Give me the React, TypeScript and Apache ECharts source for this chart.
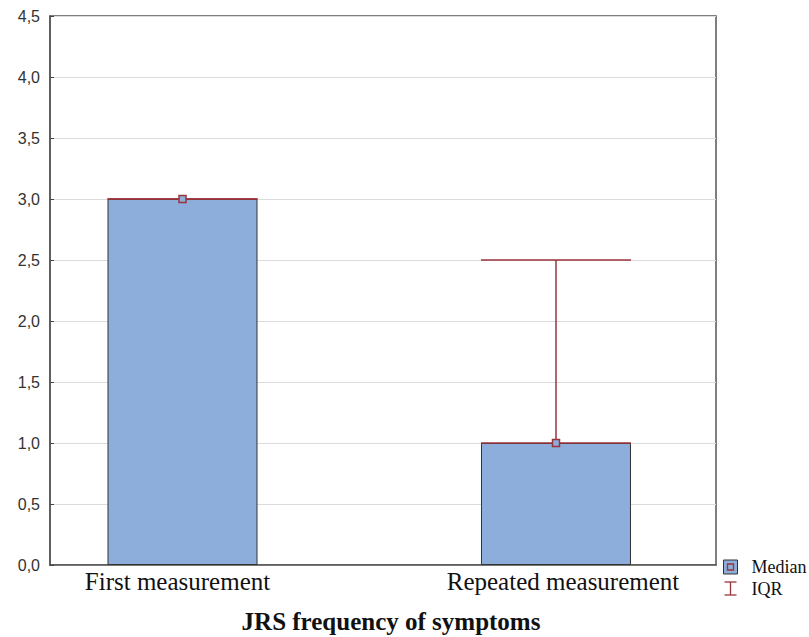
import React, { useEffect, useRef } from "react";
import * as echarts from "echarts";

const categories = ["First measurement", "Repeated measurement"];
const positions = [1, 2];
const medians = [3.0, 1.0];
const iqrLow = [3.0, 1.0];
const iqrHigh = [3.0, 2.5];
const yTicks = [0, 0.5, 1, 1.5, 2, 2.5, 3, 3.5, 4, 4.5];

const BAR_W = 150;
const BAR_COLOR = "#8DADDA";
const RED = "#9A353B";

export default function App() {
  const ref = useRef<HTMLDivElement>(null);
  useEffect(() => {
    document.body.style.margin = "0";
    const chart = echarts.init(ref.current!, null, { renderer: "svg" });
    const barData = positions.map((p, i) => [p, medians[i]]);
    const iqrData = positions.map((p, i) => [p, iqrLow[i], iqrHigh[i]]);
    chart.setOption({
      animation: false,
      grid: {
        left: 50,
        top: 16,
        right: 93,
        bottom: 72,
        outerBoundsMode: "none",
        containLabel: false,
        show: true,
        borderColor: "#555",
        borderWidth: 1.5,
        backgroundColor: "transparent",
      },
      xAxis: {
        type: "value",
        min: 0.6452,
        max: 2.4284,
        name: "JRS frequency of symptoms",
        nameLocation: "middle",
        nameGap: 44,
        nameTextStyle: {
          fontFamily: "Liberation Serif",
          fontWeight: "bold",
          fontSize: 25,
          color: "#111",
          padding: [0, 0, 0, 16],
        },
        axisLine: { show: true, lineStyle: { color: "#555", width: 1.5 } },
        axisTick: {
          show: true,
          inside: true,
          length: 4,
          customValues: positions,
          lineStyle: { color: "#444" },
        },
        axisLabel: {
          customValues: positions,
          formatter: (v: number) => {
            const i = positions.indexOf(Math.round(v));
            return i === 0 ? "{a|" + categories[0] + "}" : i === 1 ? "{b|" + categories[1] + "}" : "";
          },
          fontFamily: "Liberation Serif",
          fontSize: 25,
          color: "#111",
          margin: 4,
          rich: {
            a: { fontFamily: "Liberation Serif", fontSize: 25, color: "#111", padding: [0, 10, 0, 0] },
            b: { fontFamily: "Liberation Serif", fontSize: 25, color: "#111", padding: [0, 0, 0, 14] },
          },
        },
        splitLine: { show: false },
      },
      yAxis: {
        type: "value",
        min: 0,
        max: 4.5,
        interval: 0.5,
        axisLine: { show: true, lineStyle: { color: "#555", width: 1.5 } },
        axisTick: { show: true, inside: true, length: 4, lineStyle: { color: "#444" } },
        axisLabel: {
          formatter: (v: number) =>
            yTicks.includes(v) ? v.toFixed(1).replace(".", ",") : "",
          fontFamily: "Liberation Sans",
          fontSize: 16,
          color: "#333",
          margin: 10,
        },
        splitLine: { show: true, lineStyle: { color: "#dcdcdc", width: 1.2 } },
      },
      series: [
        {
          type: "bar",
          data: barData,
          barWidth: BAR_W,
          itemStyle: { color: BAR_COLOR, borderColor: "#333", borderWidth: 1 },
          z: 2,
        },
        {
          type: "custom",
          data: iqrData,
          z: 3,
          renderItem: (params: any, api: any) => {
            const x = api.value(0);
            const lo = api.coord([x, api.value(1)]);
            const hi = api.coord([x, api.value(2)]);
            const h = BAR_W / 2;
            const style = { stroke: RED, lineWidth: 1.5 };
            return {
              type: "group",
              children: [
                { type: "line", shape: { x1: lo[0], y1: lo[1], x2: hi[0], y2: hi[1] }, style },
                { type: "line", shape: { x1: hi[0] - h, y1: hi[1], x2: hi[0] + h, y2: hi[1] }, style },
                { type: "line", shape: { x1: lo[0] - h, y1: lo[1], x2: lo[0] + h, y2: lo[1] }, style },
              ],
            };
          },
        },
        {
          type: "scatter",
          data: barData,
          symbol: "rect",
          symbolSize: 7,
          z: 4,
          itemStyle: { color: BAR_COLOR, borderColor: RED, borderWidth: 1.5, opacity: 1 },
        },
      ],
      graphic: [
        {
          type: "group",
          left: 722,
          top: 558,
          children: [
            { type: "rect", shape: { x: 0, y: 0, width: 14, height: 14 }, style: { fill: BAR_COLOR, stroke: "#333", lineWidth: 1 } },
            { type: "rect", shape: { x: 4, y: 4, width: 6, height: 6 }, style: { fill: BAR_COLOR, stroke: RED, lineWidth: 1.3 } },
            { type: "text", x: 28, y: 7, style: { text: "Median", fontFamily: "Liberation Serif", fontSize: 18, fill: "#111", verticalAlign: "middle" } },
            { type: "line", shape: { x1: 7, y1: 22, x2: 7, y2: 35 }, style: { stroke: RED, lineWidth: 1.3 } },
            { type: "line", shape: { x1: 1, y1: 22, x2: 13, y2: 22 }, style: { stroke: RED, lineWidth: 1.3 } },
            { type: "line", shape: { x1: 1, y1: 35, x2: 13, y2: 35 }, style: { stroke: RED, lineWidth: 1.3 } },
            { type: "text", x: 28, y: 29, style: { text: "IQR", fontFamily: "Liberation Serif", fontSize: 18, fill: "#111", verticalAlign: "middle" } },
          ],
        },
      ],
    });
    return () => chart.dispose();
  }, []);
  return <div ref={ref} style={{ width: 809, height: 637 }} />;
}
